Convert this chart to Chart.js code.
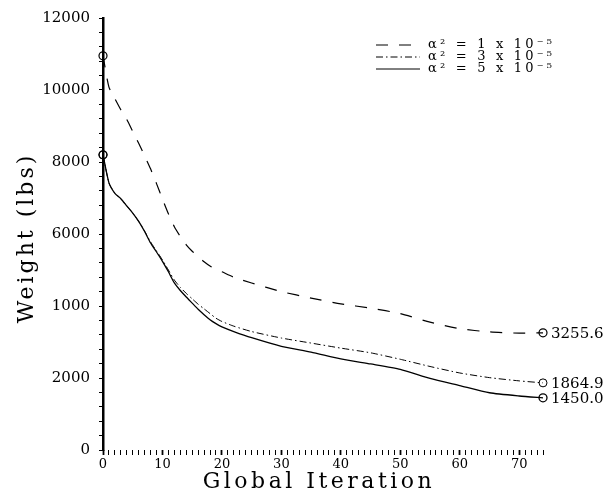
<!DOCTYPE html>
<html>
<head>
<meta charset="utf-8">
<script src="https://cdn.jsdelivr.net/npm/chart.js@4"></script>
<style>
    body { margin: 0; background: #fff; }
    #wrap { width: 609px; height: 503px; }
</style>
</head>
<body>
<div id="wrap"><canvas id="the-graph" width="609" height="503"></canvas></div>
<script>
/*
 *  Data
 */

const iterations = [0, 1, 2, 3, 4, 5, 6, 7, 8, 9, 10, 11, 12, 13, 14, 15, 16, 17, 18, 19, 20,
    22, 25, 30, 35, 40, 45, 50, 55, 60, 65, 70, 74];

// alpha^2 = 1e-5 (dashed)
const weightA1 = [10950, 10080, 9760, 9450, 9180, 8850, 8520, 8170, 7810, 7400, 6970, 6560, 6200, 5930, 5700, 5520, 5370, 5230, 5110, 5020, 4950,
    4800, 4640, 4400, 4220, 4060, 3940, 3790, 3550, 3370, 3280, 3245, 3255.6];
// alpha^2 = 3e-5 (dash-dot)
const weightA3 = [8200, 7420, 7130, 6980, 6780, 6580, 6350, 6080, 5780, 5530, 5280, 5000, 4720, 4520, 4350, 4200, 4050, 3920, 3790, 3660, 3570,
    3440, 3290, 3110, 2970, 2830, 2700, 2520, 2320, 2140, 2010, 1920, 1864.9];
// alpha^2 = 5e-5 (solid)
const weightA5 = [8200, 7420, 7130, 6980, 6780, 6580, 6350, 6070, 5750, 5500, 5240, 4950, 4640, 4430, 4250, 4080, 3910, 3760, 3620, 3510, 3420,
    3290, 3120, 2880, 2720, 2530, 2390, 2240, 1990, 1790, 1590, 1500, 1450];

const seriesLabels = ['\u03b1\u00b2 = 1 x 10\u207b\u2075', '\u03b1\u00b2 = 3 x 10\u207b\u2075', '\u03b1\u00b2 = 5 x 10\u207b\u2075'];
const endLabels = ['3255.6', '1864.9', '1450.0'];

const xTickValues = [0, 10, 20, 30, 40, 50, 60, 70];
const xTickLabels = ['0', '10', '20', '30', '40', '50', '60', '70'];
const yTickValues = [0, 2000, 4000, 6000, 8000, 10000, 12000];
const yTickLabels = ['0', '2000', '1000', '6000', '8000', '10000', '12000'];

const xTitle = 'Global Iteration';
const yTitle = 'Weight (lbs)';

/*
 *  Helpers
 */

function toPoints(values)
{
    return values.map((v, i) => ({x: iterations[i], y: v}));
}

function endRadius(ctx)
{
    let last = ctx.dataset.data.length - 1;
    return (ctx.dataIndex === 0 || ctx.dataIndex === last) ? 4 : 0;
}

const SERIF = '"DejaVu Serif", "Liberation Serif", serif';

/*
 *  Plugins: legend box, end labels and spaced axis titles
 */

const paperPlugin = {
    id: 'paper',
    afterDraw(chart) {
        const c = chart.ctx;
        const area = chart.chartArea;
        const xs = chart.scales.x, ys = chart.scales.y;

        c.save();
        c.fillStyle = '#000';
        c.strokeStyle = '#000';

        // legend in upper right
        c.font = '13px ' + SERIF;
        c.textBaseline = 'middle';
        c.textAlign = 'left';
        c.letterSpacing = '3.2px';
        chart.data.datasets.forEach((ds, i) => {
            let y = 45 + i * 12;
            c.beginPath();
            c.lineWidth = 1;
            c.setLineDash(ds.borderDash || []);
            c.moveTo(376, y);
            c.lineTo(420, y);
            c.stroke();
            c.setLineDash([]);
            c.fillText(ds.label, 428, y);
        });

        // numbers at the end of each curve
        c.letterSpacing = '0px';
        c.font = '15px ' + SERIF;
        chart.data.datasets.forEach((ds, i) => {
            let p = ds.data[ds.data.length - 1];
            c.fillText(endLabels[i], xs.getPixelForValue(p.x) + 8, ys.getPixelForValue(p.y) + 1);
        });

        // axis titles
        c.font = '22px ' + SERIF;
        c.letterSpacing = '3.5px';
        c.textAlign = 'center';
        c.textBaseline = 'alphabetic';
        c.fillText(xTitle, (area.left + area.right) / 2 - 4, 488);

        c.translate(33, 238);
        c.rotate(-Math.PI / 2);
        c.letterSpacing = '3px';
        c.fillText(yTitle, 0, 0);
        c.restore();
    }
};

/*
 *  Chart
 */

document.addEventListener("DOMContentLoaded", ()=> {
    const content = document.getElementById('the-graph').getContext('2d');
    new Chart(content, {
        type: 'line',
        data: {
            datasets: [
                {
                    label: seriesLabels[0],
                    data: toPoints(weightA1),
                    borderColor: '#000',
                    borderWidth: 1.2,
                    borderDash: [12, 11],
                },
                {
                    label: seriesLabels[1],
                    data: toPoints(weightA3),
                    borderColor: '#000',
                    borderWidth: 1,
                    borderDash: [7, 3, 1.5, 3],
                },
                {
                    label: seriesLabels[2],
                    data: toPoints(weightA5),
                    borderColor: '#000',
                    borderWidth: 1.3,
                    borderDash: [],
                },
            ]
        },
        options: {
            responsive: false,
            animation: false,
            layout: { padding: { top: 15, right: 66, left: 0, bottom: 0 } },
            elements: {
                line: { tension: 0.2, fill: false },
                point: {
                    radius: endRadius,
                    hoverRadius: endRadius,
                    pointStyle: 'circle',
                    backgroundColor: 'rgba(0,0,0,0)',
                    borderColor: '#000',
                    borderWidth: 1.2,
                }
            },
            datasets: { line: { clip: false } },
            plugins: {
                legend: { display: false },
                tooltip: { enabled: false },
            },
            scales: {
                x: {
                    type: 'linear',
                    min: 0,
                    max: 74,
                    afterFit: (s) => { s.height = 53; },
                    border: { display: false },
                    grid: {
                        drawOnChartArea: false,
                        tickLength: 5,
                        tickColor: '#000',
                        tickWidth: (ctx) => (ctx.tick && ctx.tick.value % 10 === 0) ? 1.8 : 1,
                    },
                    ticks: {
                        stepSize: 1,
                        maxTicksLimit: 200,
                        autoSkip: false,
                        maxRotation: 0,
                        padding: 2,
                        color: '#000',
                        font: { family: SERIF, size: 13 },
                        callback: (v) => {
                            let k = xTickValues.indexOf(v);
                            return k >= 0 ? xTickLabels[k] : '';
                        }
                    }
                },
                y: {
                    type: 'linear',
                    min: 0,
                    max: 12000,
                    afterFit: (s) => { s.width = 103; },
                    border: { display: true, color: '#000', width: 2.5 },
                    grid: {
                        drawOnChartArea: false,
                        tickLength: 4,
                        tickColor: '#000',
                        tickWidth: 1,
                    },
                    ticks: {
                        stepSize: 400,
                        maxTicksLimit: 200,
                        autoSkip: false,
                        padding: 9,
                        color: '#000',
                        font: { family: SERIF, size: 15 },
                        callback: (v) => {
                            let k = yTickValues.indexOf(v);
                            return k >= 0 ? yTickLabels[k] : '';
                        }
                    }
                }
            }
        },
        plugins: [paperPlugin]
    });
})
</script>
</body>
</html>
